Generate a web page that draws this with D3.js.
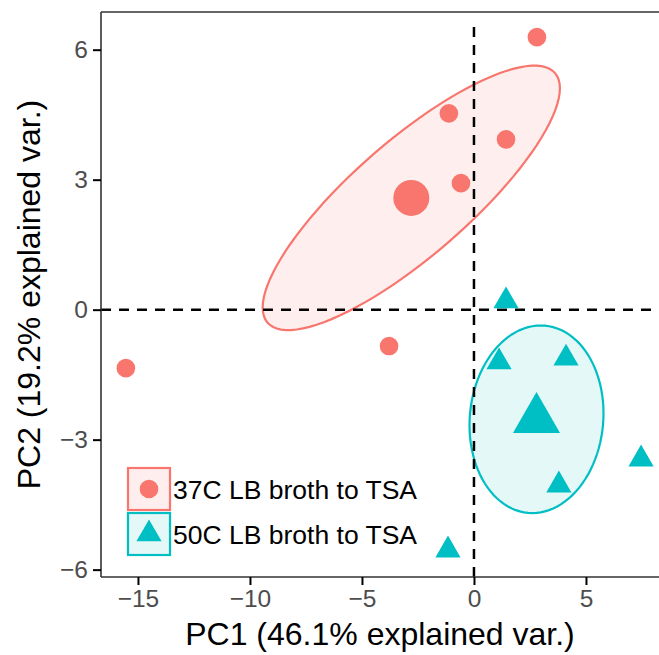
<!DOCTYPE html>
<html>
<head>
<meta charset="utf-8">
<script src="https://cdn.jsdelivr.net/npm/d3@7"></script>
<style>
  body { margin: 0; background: #fff; }
  text { font-family: "Liberation Sans", Arial, sans-serif; }
</style>
</head>
<body>
<svg id="chart" width="659" height="655"></svg>
<script>
// PCA scores
const groups = ["37C LB broth to TSA", "50C LB broth to TSA"];
const pc1_37 = [2.81, -1.12, 1.43, -0.58, -3.79, -15.54];
const pc2_37 = [6.29, 4.53, 3.93, 2.92, -0.84, -1.35];
const pc1_50 = [1.43, 1.12, 4.11, 7.46, 3.79, -1.16];
const pc2_50 = [0.20, -1.21, -1.12, -3.45, -4.05, -5.55];
const xTicks = [-15, -10, -5, 0, 5];
const yTicks = [-6, -3, 0, 3, 6];
const colors = ["#F8766D", "#00BFC4"];
const fills = ["#FEEFEE", "#E5F8F8"];

const svg = d3.select("#chart");
const margin = {left: 101, top: 12, right: 0, bottom: 78};
const width = +svg.attr("width");
const height = +svg.attr("height");

const x = d3.scaleLinear().domain([-16.65, 8.26]).range([margin.left, width - margin.right]);
const y = d3.scaleLinear().domain([-6.17, 6.87]).range([height - margin.bottom, margin.top]);

const data = [
    pc1_37.map((v, i) => ({x: v, y: pc2_37[i], g: 0})),
    pc1_50.map((v, i) => ({x: v, y: pc2_50[i], g: 1}))
];

// confidence ellipse around the group mean (level 0.95)
function confEllipse(pts) {
    const n = pts.length;
    const mx = d3.mean(pts, d => d.x), my = d3.mean(pts, d => d.y);
    let sxx = 0, syy = 0, sxy = 0;
    pts.forEach(d => {
        sxx += (d.x - mx) ** 2;
        syy += (d.y - my) ** 2;
        sxy += (d.x - mx) * (d.y - my);
    });
    sxx /= n - 1; syy /= n - 1; sxy /= n - 1;
    const t = Math.sqrt(-2 * Math.log(0.05)) / Math.sqrt(n);
    // cholesky
    const l11 = Math.sqrt(sxx), l21 = sxy / l11, l22 = Math.sqrt(syy - l21 * l21);
    const out = [];
    for (let k = 0; k < 100; k++) {
        const a = 2 * Math.PI * k / 100;
        const c = Math.cos(a), s = Math.sin(a);
        out.push([mx + t * l11 * c, my + t * (l21 * c + l22 * s)]);
    }
    return {pts: out, mx: mx, my: my};
}

const line = d3.line().x(d => x(d[0])).y(d => y(d[1])).curve(d3.curveLinearClosed);

const plot = svg.append("g");
const ells = data.map(confEllipse);

ells.forEach((e, g) => {
    plot.append("path")
        .attr("d", line(e.pts))
        .attr("fill", fills[g])
        .attr("stroke", colors[g])
        .attr("stroke-width", 2.2);
});

// reference lines
plot.append("line")
    .attr("x1", x.range()[0]).attr("x2", x.range()[1])
    .attr("y1", y(0)).attr("y2", y(0))
    .attr("stroke", "#000").attr("stroke-width", 2.5).attr("stroke-dasharray", "10,8");
plot.append("line")
    .attr("x1", x(0)).attr("x2", x(0))
    .attr("y1", y.range()[0]).attr("y2", 20)
    .attr("stroke", "#000").attr("stroke-width", 2.5).attr("stroke-dasharray", "10,8");

// points
function marker(g, big) {
    if (g === 0) return d3.symbol().type(d3.symbolCircle).size(big ? 1018 : 272)();
    return d3.symbol().type(d3.symbolTriangle).size(big ? 960 : 275)();
}

data.forEach((pts, g) => {
    plot.selectAll(null)
        .data(pts)
        .enter()
        .append("path")
        .attr("transform", d => `translate(${x(d.x)},${y(d.y)})`)
        .attr("d", marker(g, false))
        .attr("fill", colors[g]);
    plot.append("path")
        .attr("transform", `translate(${x(ells[g].mx)},${y(ells[g].my)})`)
        .attr("d", marker(g, true))
        .attr("fill", colors[g]);
});

// axes
const fmt = d => d < 0 ? "\u2212" + Math.abs(d) : d;
const xAxis = svg.append("g")
    .attr("transform", `translate(0,${height - margin.bottom})`)
    .call(d3.axisBottom(x).tickValues(xTicks).tickSize(8).tickPadding(5).tickFormat(fmt));
const yAxis = svg.append("g")
    .attr("transform", `translate(${margin.left},0)`)
    .call(d3.axisLeft(y).tickValues(yTicks).tickSize(8).tickPadding(5).tickFormat(fmt));

[xAxis, yAxis].forEach(a => {
    a.select(".domain").attr("stroke", "#333").attr("stroke-width", 1.6);
    a.selectAll(".tick line").attr("stroke", "#000").attr("stroke-width", 2);
    a.selectAll(".tick text").attr("fill", "#4D4D4D").style("font-size", "24.5px");
});
xAxis.select(".domain").attr("d", `M${x.range()[0]},0H${x.range()[1]}`);
yAxis.select(".domain").attr("d", `M0,${y.range()[0]}V${y.range()[1]}`);

// top border
svg.append("line")
    .attr("x1", margin.left).attr("x2", width)
    .attr("y1", margin.top).attr("y2", margin.top)
    .attr("stroke", "#333").attr("stroke-width", 1.6);

// axis titles
svg.append("text")
    .attr("x", (x.range()[0] + x.range()[1]) / 2)
    .attr("y", 645)
    .attr("text-anchor", "middle")
    .style("font-size", "32px")
    .text("PC1 (46.1% explained var.)");
svg.append("text")
    .attr("transform", `translate(40,${(y.range()[0] + y.range()[1]) / 2}) rotate(-90)`)
    .attr("text-anchor", "middle")
    .style("font-size", "32px")
    .text("PC2 (19.2% explained var.)");

// legend
const legend = svg.append("g").attr("transform", "translate(127,467)");
groups.forEach((name, g) => {
    const row = legend.append("g").attr("transform", `translate(0,${g * 45})`);
    row.append("rect")
        .attr("x", 1).attr("y", 1).attr("width", 42).attr("height", 42)
        .attr("fill", fills[g]).attr("stroke", colors[g]).attr("stroke-width", 2.2);
    row.append("path")
        .attr("transform", "translate(22,22)")
        .attr("d", marker(g, false))
        .attr("fill", colors[g]);
    row.append("text")
        .attr("x", 46).attr("y", 22)
        .attr("dy", "0.36em")
        .style("font-size", "26.5px")
        .text(name);
});
</script>
</body>
</html>
